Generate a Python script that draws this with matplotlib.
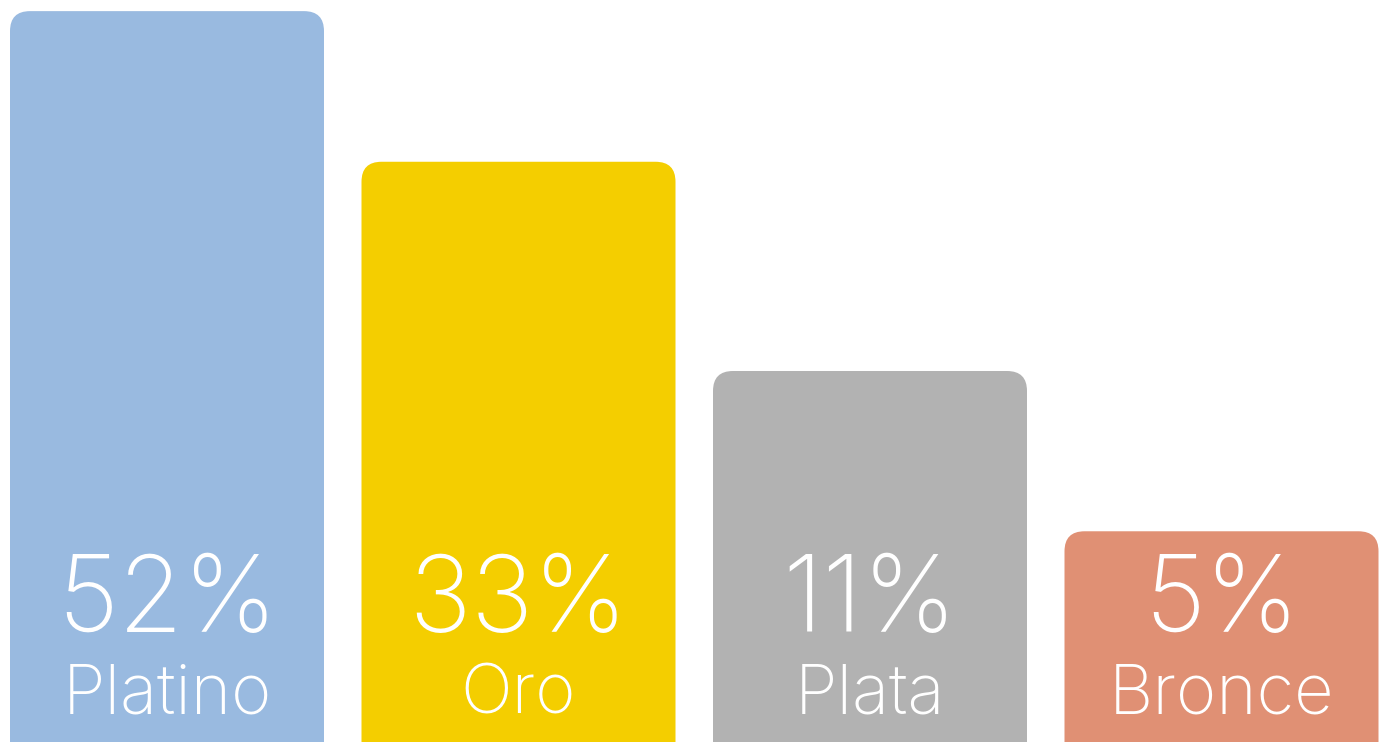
import matplotlib
matplotlib.use("Agg")
import matplotlib.pyplot as plt
from matplotlib.patches import FancyBboxPatch

categories = ["Platino", "Oro", "Plata", "Bronce"]
percents = [52, 33, 11, 5]
bar_heights = [98.5, 78.2, 50.0, 28.4]  # visual bar heights (% of chart height)
colors = ["#99BAE0", "#F4CE00", "#B2B2B2", "#E09074"]

W, H = 1379, 742
fig = plt.figure(figsize=(W / 100, H / 100), dpi=100)
ax = fig.add_axes([0, 0, 1, 1])
step_px = 351.5
x0_px = 167
ax.set_xlim(-x0_px / step_px, (W - x0_px) / step_px)
ax.set_ylim(0, 100)
ax.axis("off")

width = 314 / step_px
aspect = (100 / H) / (1 / step_px)
r = 20 / step_px
font = "Inter"
for i, (cat, p, h, c) in enumerate(zip(categories, percents, bar_heights, colors)):
    patch = FancyBboxPatch((i - width / 2, -10), width, h + 10,
                           boxstyle=f"round,pad=0,rounding_size={r}",
                           mutation_aspect=aspect, fc=c, ec="none")
    ax.add_patch(patch)
    ax.text(i, 14.8, f"{p}%", ha="center", va="baseline", color="white",
            fontsize=76, fontfamily=font, fontweight="light")
    ax.text(i, 3.9, cat, ha="center", va="baseline", color="white",
            fontsize=49.5, fontfamily=font, fontweight="light")

fig.savefig("out.png", dpi=100)
